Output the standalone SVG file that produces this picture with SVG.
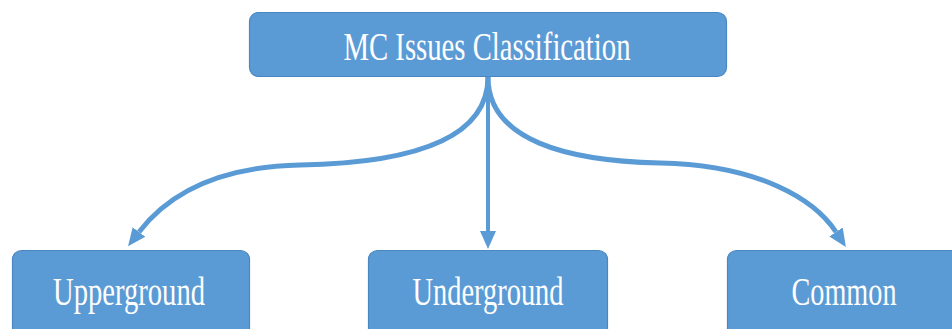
<svg xmlns="http://www.w3.org/2000/svg" width="952" height="329" viewBox="0 0 952 329">
  <defs>
    <style>
      .box { fill: #5b9bd5; stroke: #4a86bf; stroke-width: 1.2; }
      .label { fill: #ffffff; font-family: "Liberation Serif", "Times New Roman", serif; font-size: 41px; text-anchor: middle; }
      .link { fill: none; stroke: #5b9bd5; }
    </style>
    <marker id="head" markerUnits="userSpaceOnUse" markerWidth="22" markerHeight="20" refX="0" refY="9" orient="auto" viewBox="0 0 22 18">
      <path d="M0,1 L18,9 L0,17 z" fill="#5b9bd5"/>
    </marker>
  </defs>

  <g id="connectors">
    <path class="link" stroke-width="5" d="M488,77 C488,140 410,163 300,165 C205,167 162,202 139,232" marker-end="url(#head)"/>
    <path class="link" stroke-width="4" d="M488,77 L488,231" marker-end="url(#head)"/>
    <path class="link" stroke-width="5" d="M488,77 C488,140 566,161 660,163 C760,165 815,200 836,232" marker-end="url(#head)"/>
  </g>

  <g id="root">
    <rect class="box" x="249.5" y="12.5" width="477" height="64" rx="9"/>
    <text class="label" x="487" y="60" textLength="287" lengthAdjust="spacingAndGlyphs">MC Issues Classification</text>
  </g>

  <g id="upperground">
    <rect class="box" x="12.5" y="250.5" width="237" height="95" rx="9"/>
    <text class="label" x="129" y="305" textLength="152" lengthAdjust="spacingAndGlyphs">Upperground</text>
  </g>

  <g id="underground">
    <rect class="box" x="368.5" y="250.5" width="239" height="95" rx="9"/>
    <text class="label" x="488" y="305" textLength="151" lengthAdjust="spacingAndGlyphs">Underground</text>
  </g>

  <g id="common">
    <rect class="box" x="727.5" y="250.5" width="240" height="95" rx="9"/>
    <text class="label" x="844" y="305" textLength="105" lengthAdjust="spacingAndGlyphs">Common</text>
  </g>
</svg>
